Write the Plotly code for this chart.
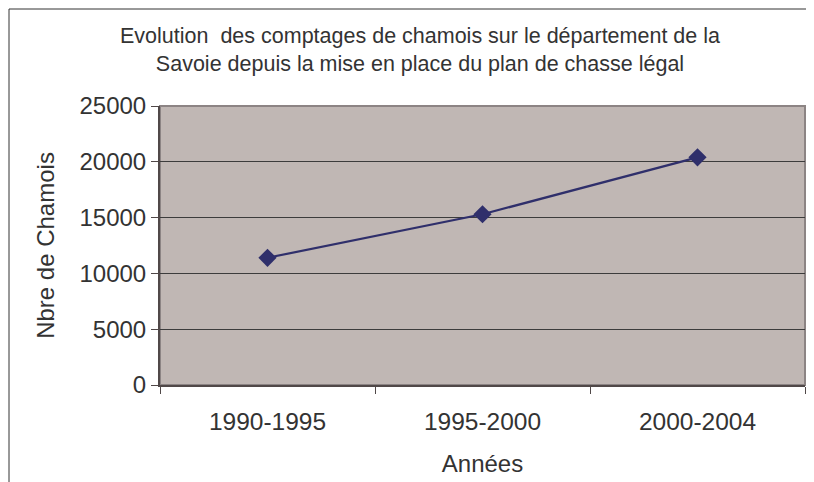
import plotly.graph_objects as go

periods = ["1990-1995", "1995-2000", "2000-2004"]
chamois = [11400, 15300, 20400]
y_ticks = [0, 5000, 10000, 15000, 20000, 25000]
y_tick_labels = ["0", "5000", "10000", "15000", "20000", "25000"]

title_text = ("Evolution  des comptages de chamois sur le département de la<br>"
              "Savoie depuis la mise en place du plan de chasse légal")

FONT = "Liberation Sans, Arial, sans-serif"
TXT = "#333333"

fig = go.Figure()
fig.add_trace(go.Scatter(
    x=periods, y=chamois, mode="lines+markers",
    line=dict(color="#2F2F6B", width=2.2),
    marker=dict(symbol="diamond", size=14, color="#2F2F6B"),
    showlegend=False, cliponaxis=False,
))

# page body has an 8px offset; figure coords = screen coords - 8
L, R, T, B = 152, 17, 98, 105
W, H = 814, 482
pw, ph = W - L - R, H - T - B

fig.update_layout(
    width=W, height=H,
    margin=dict(l=L, r=R, t=T, b=B, autoexpand=False),
    paper_bgcolor="white",
    plot_bgcolor="#C0B7B4",
    font=dict(family=FONT, color=TXT, size=24),
    title=dict(text=title_text, x=(412 - L) / pw, xref="paper", xanchor="center",
               y=1 - 35 / H, yanchor="middle", automargin=False,
               font=dict(size=21.5, color=TXT, family=FONT)),
    xaxis=dict(
        type="category", range=[-0.5, 2.5], automargin=False,
        tickson="boundaries", ticks="outside", ticklen=7, tickcolor="#504848",
        showline=True, linecolor="#504848", linewidth=2,
        showgrid=False, tickfont=dict(size=24.5, color=TXT),
        ticklabelstandoff=14,
        title=dict(text="Années", font=dict(size=24, color=TXT), standoff=21),
        zeroline=False,
    ),
    yaxis=dict(
        range=[0, 25000], tickvals=y_ticks, ticktext=y_tick_labels, automargin=False,
        ticks="outside", ticklen=7, tickcolor="#504848",
        showline=True, linecolor="#504848", linewidth=2,
        showgrid=True, gridcolor="#3C3C3C", gridwidth=1,
        tickfont=dict(size=24, color=TXT),
        title=dict(text="Nbre de Chamois", font=dict(size=24, color=TXT), standoff=18),
        zeroline=False,
    ),
    shapes=[
        dict(type="rect", xref="paper", yref="paper", x0=0, x1=1, y0=0, y1=1,
             line=dict(color="#8C8484", width=2), layer="below"),
        dict(type="rect", xref="paper", yref="paper",
             x0=(1 - L) / pw, x1=(804 - L) / pw,
             y0=(H - 490 - B) / ph, y1=(H - 1 - B) / ph,
             line=dict(color="#333333", width=1)),
    ],
)

fig.write_html("out.html")
